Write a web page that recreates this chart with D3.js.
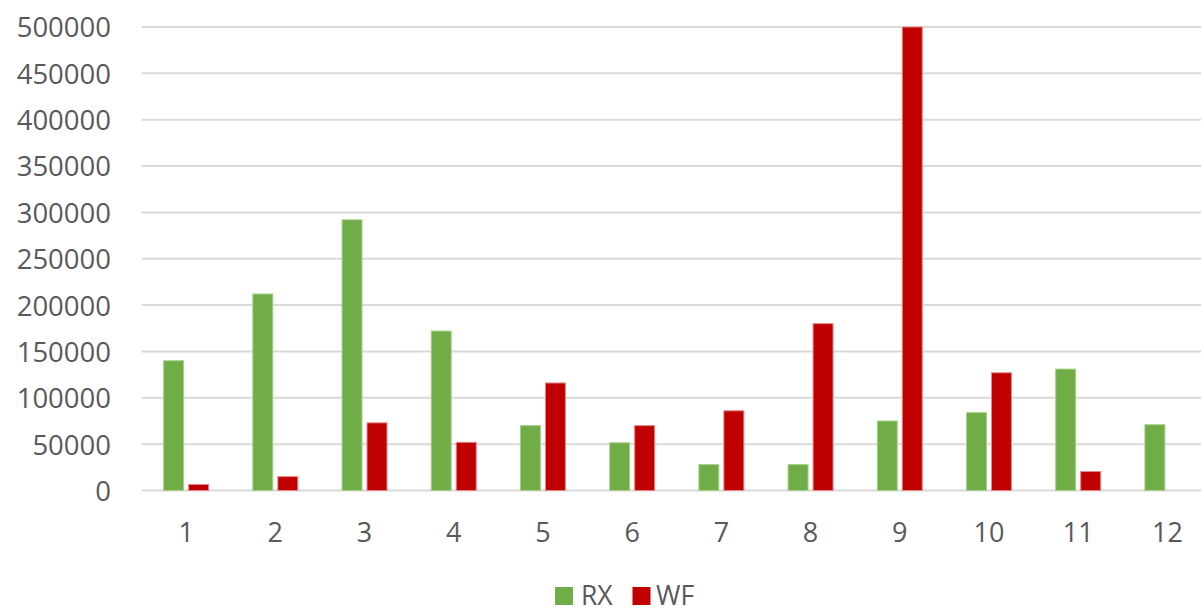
<!DOCTYPE html>
<html>
<head>
<meta charset="utf-8">
<script src="https://cdn.jsdelivr.net/npm/d3@7"></script>
<style>
  html, body { margin: 0; padding: 0; background: #fff; }
  svg { display: block; }
  text { font-family: "Open Sans", "Liberation Sans", sans-serif; fill: #595959; }
</style>
</head>
<body>
<svg id="chart" width="1201" height="613"></svg>
<script>
// Monthly series values
const categories = ["1", "2", "3", "4", "5", "6", "7", "8", "9", "10", "11", "12"];
const seriesNames = ["RX", "WF"];
const rxValues = [140000, 212000, 292000, 172000, 70000, 51500, 28000, 28000, 75000, 84000, 131000, 71000];
const wfValues = [6500, 15000, 73000, 52000, 116000, 70000, 86000, 180000, 500000, 127000, 20500, 0];
const yTicks = [0, 50000, 100000, 150000, 200000, 250000, 300000, 350000, 400000, 450000, 500000];
const seriesColors = { RX: "#70AD47", WF: "#C00000" };
const seriesStroke = { RX: "#A9D18E", WF: "#E58A8A" };

const svg = d3.select("#chart");
// plot area runs slightly past the right edge of the canvas
const plot = { left: 141.5, right: 1212, top: 27, bottom: 490.5 };
const gridRight = 1201;

const x = d3.scaleBand().domain(categories).range([plot.left, plot.right]).paddingInner(0).paddingOuter(0);
const groupW = 45;
const x1 = d3.scaleBand().domain(seriesNames).range([0, groupW]).paddingInner(0.2).paddingOuter(0);
const y = d3.scaleLinear().domain([0, 500000]).range([plot.bottom, plot.top]);

// Horizontal gridlines
svg.append("g")
  .selectAll("line")
  .data(yTicks)
  .join("line")
  .attr("x1", plot.left)
  .attr("x2", gridRight)
  .attr("y1", d => y(d))
  .attr("y2", d => y(d))
  .attr("stroke", "#D9D9D9")
  .attr("stroke-width", 2);

// Y axis labels
const yAxis = d3.axisLeft(y).tickValues(yTicks).tickSize(0).tickPadding(0).tickFormat(d3.format("d"));
const yg = svg.append("g").attr("transform", "translate(111,0)").call(yAxis);
yg.select(".domain").remove();
yg.selectAll("text")
  .attr("font-size", 27.5)
  .attr("font-family", "'Open Sans', 'Liberation Sans', sans-serif")
  .attr("fill", "#595959")
  .attr("dy", "0.36em");

// X axis labels
const xAxis = d3.axisBottom(x).tickSize(0).tickPadding(0);
const xg = svg.append("g").attr("transform", `translate(0,${plot.bottom})`).call(xAxis);
xg.select(".domain").remove();
xg.selectAll("text")
  .attr("font-size", 27)
  .attr("font-family", "'Open Sans', 'Liberation Sans', sans-serif")
  .attr("fill", "#595959")
  .attr("y", 51)
  .attr("dy", 0);

// Bars
const rows = categories.map((c, i) => ({ cat: c, RX: rxValues[i], WF: wfValues[i] }));
const groups = svg.append("g")
  .selectAll("g")
  .data(rows)
  .join("g")
  .attr("transform", d => `translate(${x(d.cat) + (x.bandwidth() - groupW) / 2},0)`);

groups.selectAll("rect")
  .data(d => seriesNames.map(s => ({ s, v: d[s] })).filter(e => e.v > 0))
  .join("rect")
  .attr("x", d => x1(d.s))
  .attr("width", x1.bandwidth())
  .attr("y", d => y(d.v))
  .attr("height", d => y(0) - y(d.v))
  .attr("fill", d => seriesColors[d.s])
  .attr("stroke", d => seriesStroke[d.s])
  .attr("stroke-width", 1);

// Legend
const legendItems = [
  { s: "RX", box: 555, text: 581 },
  { s: "WF", box: 632.5, text: 656 }
];
const lg = svg.append("g");
lg.selectAll("rect")
  .data(legendItems)
  .join("rect")
  .attr("x", d => d.box)
  .attr("y", 587)
  .attr("width", 18)
  .attr("height", 18)
  .attr("fill", d => seriesColors[d.s]);
lg.selectAll("text")
  .data(legendItems)
  .join("text")
  .attr("x", d => d.text)
  .attr("y", 605)
  .attr("font-size", 26.5)
  .text(d => d.s);
</script>
</body>
</html>
